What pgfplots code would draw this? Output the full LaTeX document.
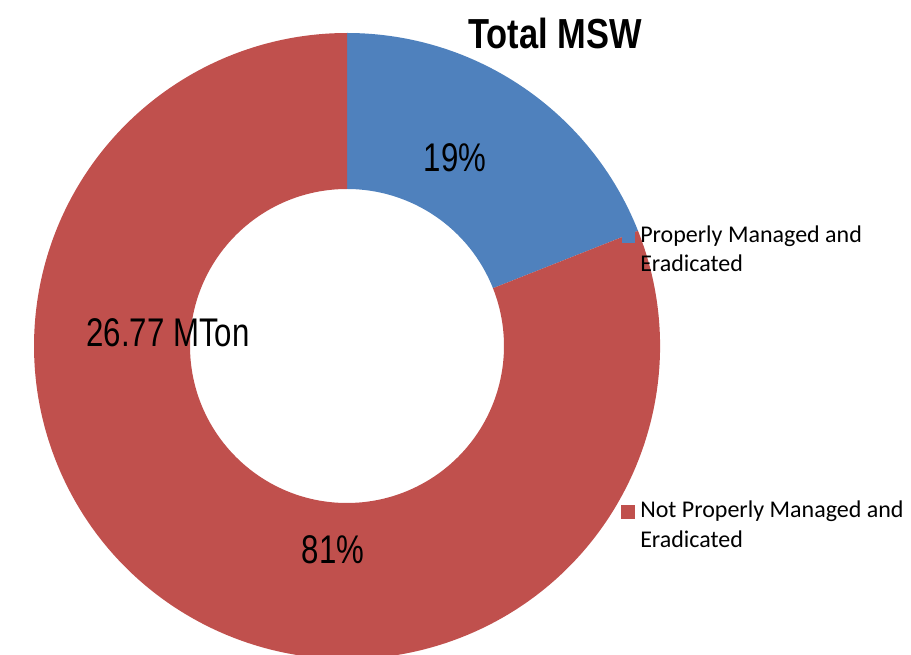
\documentclass[border=0pt]{standalone}
\usepackage{pgfplots}
\pgfplotsset{compat=1.18}
\usepackage{pgfplotstable}
\usepackage{fontspec}
\setmainfont{Liberation Sans}
\newfontfamily\narrow[FakeStretch=0.78]{Liberation Sans}
\newfontfamily\narrowtitle[FakeStretch=0.82]{Liberation Sans}
\newfontfamily\legendfont{Carlito}
\usetikzlibrary{calc}
\definecolor{msblue}{HTML}{4F81BD}
\definecolor{msred}{HTML}{C0504D}

\pgfplotstableread{
share
19
81
}\msw

\begin{document}
\begin{tikzpicture}
\pgfplotstablegetelem{0}{share}\of\msw \let\sA\pgfplotsretval
\pgfplotstablegetelem{1}{share}\of\msw \let\sB\pgfplotsretval
\pgfmathsetmacro\aA{90-3.6*\sA}
\pgfmathsetmacro\aB{\aA-3.6*\sB}
\def\Ro{234.75pt}
\def\Ri{117.75pt}
\begin{axis}[hide axis, scale only axis, width=683.25pt, height=490.5pt,
  xmin=0, xmax=911, ymin=0, ymax=654, clip=true]
\coordinate (BL) at (axis cs:0,0);
\coordinate (TR) at (axis cs:911,654);
\coordinate (C) at (axis cs:347,308);
% blue slice
\fill[msblue] ($(C)+(90:\Ro)$) arc[start angle=90, end angle=\aA, radius=\Ro]
  -- ($(C)+(\aA:\Ri)$) arc[start angle=\aA, end angle=90, radius=\Ri] -- cycle;
% red slice
\fill[msred] ($(C)+(\aA:\Ro)$) arc[start angle=\aA, end angle=\aB, radius=\Ro]
  -- ($(C)+(\aB:\Ri)$) arc[start angle=\aB, end angle=\aA, radius=\Ri] -- cycle;
% legend squares
\fill[msblue] (axis cs:622,411) rectangle (axis cs:635,424);
\fill[msred] (axis cs:621,135) rectangle (axis cs:635,149);
% legend text
\node[anchor=base west, inner sep=0, font=\legendfont\fontsize{18}{21}\selectfont] at (axis cs:640,411) {Properly Managed and};
\node[anchor=base west, inner sep=0, font=\legendfont\fontsize{18}{21}\selectfont] at (axis cs:640,382) {Eradicated};
\node[anchor=base west, inner sep=0, font=\legendfont\fontsize{18}{21}\selectfont] at (axis cs:640,136) {Not Properly Managed and};
\node[anchor=base west, inner sep=0, font=\legendfont\fontsize{18}{21}\selectfont] at (axis cs:640,107) {Eradicated};
% title
\node[inner sep=0, font=\narrowtitle\bfseries\fontsize{31.5}{36}\selectfont] at (axis cs:555,621) {Total MSW};
% data labels
\node[inner sep=0, font=\narrow\fontsize{30}{34}\selectfont] at (axis cs:455,496) {19\%};
\node[inner sep=0, font=\narrow\fontsize{30}{34}\selectfont] at (axis cs:168,321) {26.77 MTon};
\node[inner sep=0, font=\narrow\fontsize{30}{34}\selectfont] at (axis cs:333,104) {81\%};
\end{axis}
\pgfresetboundingbox
\useasboundingbox (BL) rectangle (TR);
\end{tikzpicture}
\end{document}
